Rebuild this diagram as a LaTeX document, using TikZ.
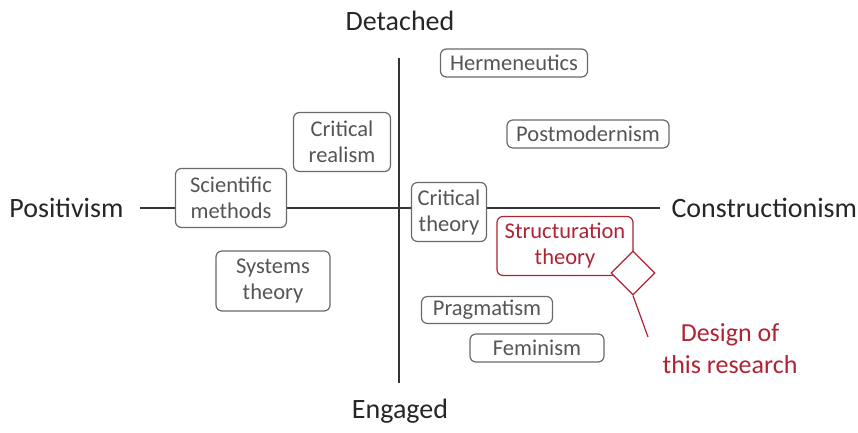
\documentclass[tikz,border=0pt]{standalone}
\usepackage{fontspec}
\setmainfont{Carlito}
\usetikzlibrary{shapes.geometric}
\definecolor{boxgray}{RGB}{105,105,105}
\definecolor{txtgray}{RGB}{85,85,85}
\definecolor{dred}{RGB}{175,36,52}
\begin{document}
\begin{tikzpicture}[x=1pt,y=-1pt,
  ibox/.style={draw=boxgray,line width=1.2pt,rounded corners=6pt,fill=white,
    text=txtgray,font=\fontsize{22.5}{26}\selectfont,align=center,inner xsep=4pt,inner ysep=2pt},
  rbox/.style={ibox,draw=dred,text=dred},
  axislabel/.style={font=\fontsize{28}{30}\selectfont,text=black!85},
  axis/.style={line width=1.5pt,draw=black!80}]
\useasboundingbox (0,0) rectangle (858,432);
% axes
\coordinate (vt) at (399,58);
\coordinate (vb) at (399,383);
\coordinate (hl) at (140,208);
\coordinate (hr) at (660,208);
\draw[axis] (vt) -- (vb);
\draw[axis] (hl) -- (hr);
\node[axislabel] (det) at (400,21) {Detached};
\node[axislabel] (eng) at (400,411) {Engaged};
\node[axislabel,anchor=east] (pos) at (127,208) {Positivism};
\node[axislabel,anchor=west] (con) at (668,208) {Constructionism};
% boxes
\node[ibox,minimum width=147pt,minimum height=28pt] (herm) at (514,63) {Hermeneutics};
\node[ibox,minimum width=97pt,minimum height=59pt] (crr) at (342,142) {Critical\\realism};
\node[ibox,minimum width=162pt,minimum height=28pt] (post) at (588,134) {Postmodernism};
\node[ibox,minimum width=111pt,minimum height=59pt] (sci) at (231,198) {Scientific\\methods};
\node[ibox,minimum width=75pt,minimum height=59pt] (crt) at (449,212) {Critical\\theory};
\node[ibox,minimum width=114pt,minimum height=60pt] (sys) at (273,281) {Systems\\theory};
\node[ibox,minimum width=131pt,minimum height=27pt] (prag) at (487,310) {Pragmatism};
\node[ibox,minimum width=134pt,minimum height=28pt] (fem) at (537,348) {Feminism};
\node[rbox,minimum width=136pt,minimum height=59pt] (str) at (565,246) {Structuration\\theory};
\node[draw=dred,line width=1.2pt,fill=white,diamond,minimum width=44pt,minimum height=44pt,inner sep=0pt] (dia) at (633,273) {};
\coordinate (lend) at (648,337);
\draw[dred,line width=1.2pt] (dia.south) -- (lend);
\node[text=dred,font=\fontsize{26}{32}\selectfont,align=center] (des) at (730,349) {Design of\\this research};
\end{tikzpicture}
\end{document}
